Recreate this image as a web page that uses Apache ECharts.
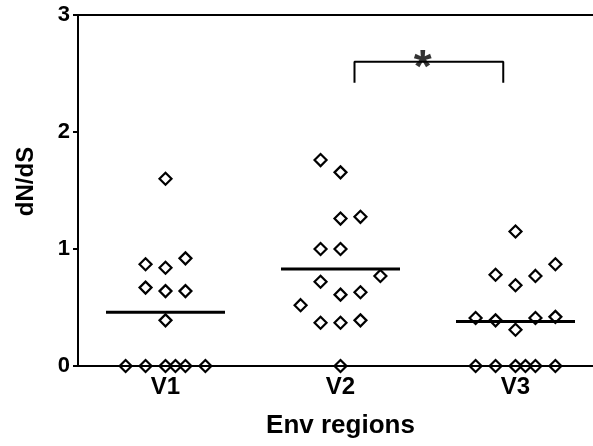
<!DOCTYPE html>
<html>
<head>
<meta charset="utf-8">
<script src="https://cdn.jsdelivr.net/npm/echarts@6/dist/echarts.min.js"></script>
<style>
  html, body { margin: 0; padding: 0; background: #fff; }
  #chart { width: 593px; height: 446px; }
</style>
</head>
<body>
<div id="chart"></div>
<script>
// categories and y ticks
const regions = ['V1', 'V2', 'V3'];
const yTicks = [0, 1, 2, 3];

// dN/dS values, one array per region
const v1Values = [1.60, 0.87, 0.84, 0.92, 0.67, 0.64, 0.64, 0.39, 0, 0, 0, 0, 0, 0];
const v2Values = [1.76, 1.655, 1.26, 1.275, 1.0, 1.0, 0.77, 0.72, 0.61, 0.63, 0.52, 0.37, 0.37, 0.39, 0];
const v3Values = [1.15, 0.78, 0.69, 0.77, 0.87, 0.41, 0.39, 0.31, 0.41, 0.42, 0, 0, 0, 0, 0, 0];

// horizontal jitter slot of each point (in symbol widths)
const v1Slots = [0, -1, 0, 1, -1, 0, 1, 0, -2, -1, 0, 0.5, 1, 2];
const v2Slots = [-1, 0, 0, 1, -1, 0, 2, -1, 0, 1, -2, -1, 0, 1, 0];
const v3Slots = [0, -1, 0, 1, 2, -2, -1, 0, 1, 2, -2, -1, 0, 0.5, 1, 2];

// group means (horizontal bars)
const means = [0.46, 0.83, 0.38];

// significance bracket between V2 and V3
const bracketX = [2.08, 2.93];
const bracketY = [2.42, 2.6];

const slotStep = 0.114;
const meanHalf = 0.34;
const font = 'Liberation Sans, Arial, sans-serif';

const groups = [
    { values: v1Values, slots: v1Slots },
    { values: v2Values, slots: v2Slots },
    { values: v3Values, slots: v3Slots }
];

const series = [];

groups.forEach((g, i) => {
    const cx = i + 1;
    series.push({
        type: 'line',
        xAxisIndex: 1,
        data: [[cx - meanHalf, means[i]], [cx + meanHalf, means[i]]],
        symbol: 'none',
        lineStyle: { color: '#000', width: 3 },
        z: 3,
        silent: true
    });
    series.push({
        type: 'scatter',
        xAxisIndex: 1,
        data: g.values.map((v, k) => [cx + g.slots[k] * slotStep, v]),
        symbol: 'diamond',
        symbolSize: 12,
        itemStyle: { color: 'transparent', borderColor: '#000', borderWidth: 2.2, opacity: 1 },
        z: 4
    });
});

// bracket
series.push({
    type: 'line',
    xAxisIndex: 1,
    data: [[bracketX[0], bracketY[0]], [bracketX[0], bracketY[1]], [bracketX[1], bracketY[1]], [bracketX[1], bracketY[0]]],
    symbol: 'none',
    lineStyle: { color: '#000', width: 2 },
    silent: true
});
series.push({
    type: 'scatter',
    xAxisIndex: 1,
    data: [[(bracketX[0] + bracketX[1]) / 2 - 0.035, bracketY[1]]],
    symbolSize: 0,
    label: {
        show: true,
        position: 'inside',
        formatter: '*',
        color: '#000',
        fontSize: 46,
        fontWeight: 'bold',
        fontFamily: font,
        offset: [0, 8]
    },
    silent: true
});

const chart = echarts.init(document.getElementById('chart'));

chart.setOption({
    backgroundColor: '#fff',
    animation: false,
    grid: {
        left: 78,
        top: 15,
        width: 525,
        height: 351,
        outerBoundsMode: 'none',
        containLabel: false,
        show: true,
        borderColor: '#000',
        borderWidth: 2,
        backgroundColor: 'transparent'
    },
    xAxis: [
        {
            type: 'category',
            data: regions,
            boundaryGap: true,
            name: 'Env regions',
            nameLocation: 'middle',
            nameGap: 47,
            nameTextStyle: { color: '#000', fontSize: 26, fontWeight: 'bold', fontFamily: font },
            axisLine: { lineStyle: { color: '#000', width: 2 } },
            axisTick: { show: false },
            axisLabel: { color: '#000', fontSize: 24, fontWeight: 'bold', fontFamily: font, margin: 9 },
            splitLine: { show: false }
        },
        {
            type: 'value',
            min: 0.5,
            max: 3.5,
            show: false
        }
    ],
    yAxis: {
        type: 'value',
        min: yTicks[0],
        max: yTicks[yTicks.length - 1],
        interval: 1,
        name: 'dN/dS',
        nameLocation: 'middle',
        nameGap: 40,
        nameTextStyle: { color: '#000', fontSize: 24, fontWeight: 'bold', fontFamily: font, padding: [0, 0, 0, 18] },
        axisLine: { show: true, lineStyle: { color: '#000', width: 2 } },
        axisTick: { show: true, length: 5, lineStyle: { color: '#000', width: 2 } },
        axisLabel: { color: '#000', fontSize: 22, fontWeight: 'bold', fontFamily: font, margin: 8 },
        splitLine: { show: false }
    },
    series: series
});
</script>
</body>
</html>
